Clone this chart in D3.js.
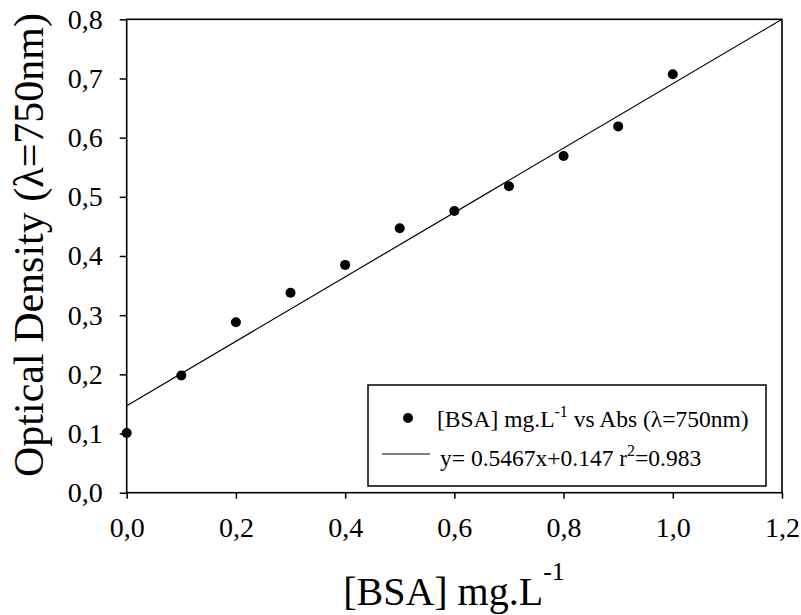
<!DOCTYPE html>
<html>
<head>
<meta charset="utf-8">
<script src="https://cdn.jsdelivr.net/npm/d3@7"></script>
<style>
  html, body { margin: 0; padding: 0; background: #fff; }
  svg { display: block; }
  text { font-family: "Liberation Serif", "Times New Roman", serif; fill: #000; }
</style>
</head>
<body>
<svg id="chart" width="801" height="615"></svg>
<script>
// ---- data ----
const bsaConc = [0.0, 0.1, 0.2, 0.3, 0.4, 0.5, 0.6, 0.7, 0.8, 0.9, 1.0];
const absorbance = [0.101, 0.198, 0.288, 0.338, 0.385, 0.447, 0.476, 0.518, 0.569, 0.619, 0.707];
const fitSlope = 0.5467;
const fitIntercept = 0.147;
const fitRange = [0, 1.2];
const xTicks = [0.0, 0.2, 0.4, 0.6, 0.8, 1.0, 1.2];
const yTicks = [0.0, 0.1, 0.2, 0.3, 0.4, 0.5, 0.6, 0.7, 0.8];
const legendLabels = ["[BSA] mg.L", "y= 0.5467x+0.147 r", "=0.983"];

// ---- layout ----
const svg = d3.select("#chart");
const L = 126.7, R = 782, T = 19.3, B = 492.7;

const x = d3.scaleLinear().domain([0, 1.2]).range([L, R]);
const y = d3.scaleLinear().domain([0, 0.8]).range([B, T]);

const fmt = v => d3.format(".1f")(v).replace(".", ",");

// x axis
const gx = svg.append("g").attr("transform", `translate(0,${B})`)
  .call(d3.axisBottom(x).tickValues(xTicks).tickFormat(fmt).tickSizeInner(6).tickSizeOuter(0).tickPadding(18.5));
gx.select(".domain").remove();
gx.selectAll("line").attr("stroke", "#000").attr("stroke-width", 1.5);
gx.selectAll("text").attr("font-size", 28);

// y axis
const gy = svg.append("g").attr("transform", `translate(${L},0)`)
  .call(d3.axisLeft(y).tickValues(yTicks).tickFormat(fmt).tickSizeInner(7).tickSizeOuter(0).tickPadding(17));
gy.select(".domain").remove();
gy.selectAll("line").attr("stroke", "#000").attr("stroke-width", 1.5);
gy.selectAll("text").attr("font-size", 28);

// frame
svg.append("rect").attr("x", L).attr("y", T).attr("width", R - L).attr("height", B - T)
  .attr("fill", "none").attr("stroke", "#000").attr("stroke-width", 1.6);

// regression line
svg.append("line")
  .attr("x1", x(fitRange[0])).attr("y1", y(fitSlope * fitRange[0] + fitIntercept))
  .attr("x2", x(fitRange[1])).attr("y2", y(Math.min(0.8, fitSlope * fitRange[1] + fitIntercept)))
  .attr("stroke", "#000").attr("stroke-width", 1.2);

// points
svg.append("g").selectAll("circle").data(bsaConc).join("circle")
  .attr("cx", d => x(d)).attr("cy", (d, i) => y(absorbance[i]))
  .attr("r", 5).attr("fill", "#000");

// legend
const lg = svg.append("g");
lg.append("rect").attr("x", 368).attr("y", 385).attr("width", 398).attr("height", 101)
  .attr("fill", "#fff").attr("stroke", "#000").attr("stroke-width", 1.5);
lg.append("circle").attr("cx", 408).attr("cy", 418).attr("r", 5).attr("fill", "#000");
const t1 = lg.append("text").attr("x", 437).attr("y", 427).attr("font-size", 23.5);
t1.append("tspan").text(legendLabels[0]);
t1.append("tspan").attr("font-size", 16).attr("dy", -10).text("-1");
t1.append("tspan").attr("dy", 10).text(" vs Abs (λ=750nm)");
lg.append("line").attr("x1", 382).attr("x2", 430).attr("y1", 454).attr("y2", 454)
  .attr("stroke", "#000").attr("stroke-width", 1.2);
const t2 = lg.append("text").attr("x", 440).attr("y", 466).attr("font-size", 23.5);
t2.append("tspan").text(legendLabels[1]);
t2.append("tspan").attr("font-size", 16).attr("dy", -10).text("2");
t2.append("tspan").attr("dy", 10).text(legendLabels[2]);

// axis titles
const xt = svg.append("text").attr("x", 454).attr("y", 605).attr("text-anchor", "middle").attr("font-size", 40);
xt.append("tspan").text("[BSA] mg.L");
xt.append("tspan").attr("font-size", 26).attr("dy", -25).text("-1");

svg.append("text").attr("transform", `translate(43,245) rotate(-90)`)
  .attr("text-anchor", "middle").attr("font-size", 42)
  .text("Optical Density (λ=750nm)");
</script>
</body>
</html>
